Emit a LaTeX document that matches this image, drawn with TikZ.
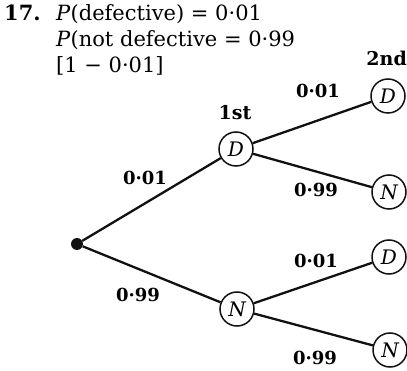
\documentclass[tikz,border=0pt]{standalone}
\usepackage{fontspec}
\setmainfont{DejaVu Serif}
\usepackage{tikz}
\usepackage{xcolor}
\usetikzlibrary{positioning,calc}
\definecolor{ink}{HTML}{111111}
\tikzset{
  state/.style={circle,draw=ink,fill=white,line width=1.5pt,
                minimum size=34pt,inner sep=0pt,
                font=\fontsize{20}{20}\selectfont\itshape},
  start/.style={circle,fill=ink,minimum size=12pt,inner sep=0pt},
  prob/.style={font=\fontsize{18}{18}\selectfont\bfseries,inner sep=1pt},
  level/.style={font=\fontsize{19}{19}\selectfont\bfseries,inner sep=0pt},
  headtxt/.style={font=\fontsize{21}{21}\selectfont,inner sep=0pt,anchor=base west},
  branch/.style={draw=ink,line width=2.3pt}
}

\begin{document}
\begin{tikzpicture}[x=1pt,y=-1pt]
  \useasboundingbox (0,0) rectangle (407,371);
  % question text
  \node[headtxt,font=\fontsize{21}{21}\selectfont\bfseries] (qnum) at (4,21) {17.};
  \node[headtxt] (lineA) at (56,21) {\textit{P}(defective) = 0·01};
  \node[headtxt] (lineB) at (56,47) {\textit{P}(not defective = 0·99};
  \node[headtxt] (lineC) at (56,73) {[1 − 0·01]};
  % tree
  \node[start] (root) at (77,244) {};
  \node[state] (fD) at (236,149) {D};
  \node[state] (fN) at (237,309) {N};
  \node[state] (sDD) at (388,96) {D};
  \node[state] (sDN) at (389,192) {N};
  \node[state] (sND) at (389,257) {D};
  \node[state] (sNN) at (390,350) {N};
  \node[level] (first) at (235,113) {1st};
  \node[level,anchor=base east] (second) at (407,66) {2nd};
  \draw[branch] (root) -- (fD);
  \draw[branch] (root) -- (fN);
  \draw[branch] (fD) -- (sDD);
  \draw[branch] (fD) -- (sDN);
  \draw[branch] (fN) -- (sND);
  \draw[branch] (fN) -- (sNN);
  % branch probabilities
  \node[prob] (pD) at (145,178) {0·01};
  \node[prob] (pN) at (138,295) {0·99};
  \node[prob] (pDD) at (318,91) {0·01};
  \node[prob] (pDN) at (316,190) {0·99};
  \node[prob] (pND) at (316,261) {0·01};
  \node[prob] (pNN) at (315,358) {0·99};
\end{tikzpicture}
\end{document}
